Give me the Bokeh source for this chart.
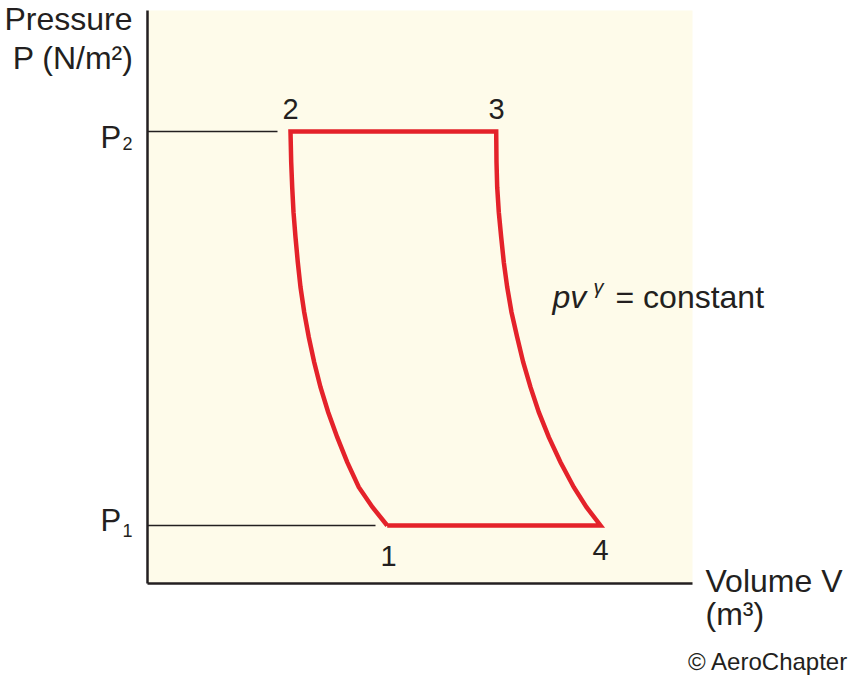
from bokeh.plotting import figure
from bokeh.models import Range1d
from bokeh.core.properties import value
from bokeh.embed import file_html
from bokeh.resources import INLINE

# ---- data (Volume in m^3, Pressure in N/m^2, arbitrary diagram units) ----
P1 = 0.58
P2 = 4.52
# compression 1 -> 2 (pv^gamma = constant)
comp_v = [2.397, 2.250, 2.113, 1.997, 1.897, 1.807, 1.730, 1.667, 1.613,
          1.567, 1.530, 1.503, 1.480, 1.460, 1.447, 1.437, 1.430]
comp_p = [0.580, 0.763, 0.963, 1.213, 1.463, 1.713, 1.963, 2.213, 2.463,
          2.713, 2.963, 3.213, 3.463, 3.713, 3.963, 4.213, 4.520]
# expansion 3 -> 4 (pv^gamma = constant)
exp_v = [3.487, 3.490, 3.497, 3.513, 3.537, 3.563, 3.597, 3.640, 3.697,
         3.757, 3.830, 3.913, 4.013, 4.130, 4.263, 4.390, 4.530]
exp_p = [4.520, 4.213, 3.963, 3.713, 3.463, 3.213, 2.963, 2.713, 2.463,
         2.213, 1.963, 1.713, 1.463, 1.213, 0.963, 0.763, 0.580]
# extents of the diagram area and guide lines
v_max = 5.45
p_max = 5.73
guide_p2_end = 1.30
guide_p1_end = 2.28
point_labels = ["1", "2", "3", "4"]

# cycle polyline: 1 -> 2 (curve), 2 -> 3 (line), 3 -> 4 (curve), 4 -> 1 (line)
cycle_v = comp_v + exp_v + [comp_v[0]]
cycle_p = comp_p + exp_p + [comp_p[0]]

W, H = 849, 685
OX, OY = 147, 583  # canvas pixel of origin
S = 100.0          # pixels per unit
TY = -10           # text baseline correction


def X(px):
    return (px - OX) / S


def Y(py):
    return (OY - py) / S


p = figure(width=W, height=H, output_backend="svg", toolbar_location=None,
           x_range=Range1d(X(0), X(W)), y_range=Range1d(Y(H), Y(0)),
           x_axis_location=None, y_axis_location=None, min_border=0,
           background_fill_color="white", border_fill_color="white",
           outline_line_color=None)
p.grid.visible = False

FONT = value("Liberation Sans")
INK = "#231F20"

# cream diagram area
p.quad(left=[0], right=[v_max], bottom=[0], top=[p_max],
       fill_color="#FEFBEA", line_color=None)

# guide lines at P1, P2
p.line([0, guide_p2_end], [P2, P2], line_color=INK, line_width=1.5)
p.line([0, guide_p1_end], [P1, P1], line_color=INK, line_width=1.5)

# axes
p.line([0, 0], [0, p_max], line_color=INK, line_width=2.5)
p.line([0, v_max], [0, 0], line_color=INK, line_width=2.5)

# cycle
p.line(cycle_v, cycle_p, line_color="#E4222A", line_width=4.5, line_join="miter")


def txt(s, px, py, size, align="left", style="normal"):
    p.text(x=[X(px)], y=[Y(py + TY)], text=[s], text_font=FONT,
           text_font_size=f"{size}px", text_align=align,
           text_baseline="alphabetic", text_color=INK, text_font_style=style)


# axis titles
txt("Pressure", 132, 28, 32, "right")
txt("P (N/m²)", 133, 67, 32, "right")
txt("Volume V", 705, 590, 32)
txt("(m³)", 705, 623, 32)

# P2 / P1 tick labels
txt("P", 100, 147, 31)
txt("2", 122, 153, 18)
txt("P", 100, 530, 31)
txt("1", 122, 540, 18)

# state point labels
txt(point_labels[1], 290, 118, 29, "center")
txt(point_labels[2], 496, 118, 29, "center")
txt(point_labels[0], 388, 565, 29, "center")
txt(point_labels[3], 600, 559, 29, "center")

# process annotation
txt("pv", 552, 306, 32, style="italic")
txt("γ", 593, 296, 20, style="italic")
txt("= constant", 615, 306, 32)

# credit
txt("© AeroChapter", 848, 671, 24, "right")

open("out.html", "w").write(file_html(p, INLINE))
